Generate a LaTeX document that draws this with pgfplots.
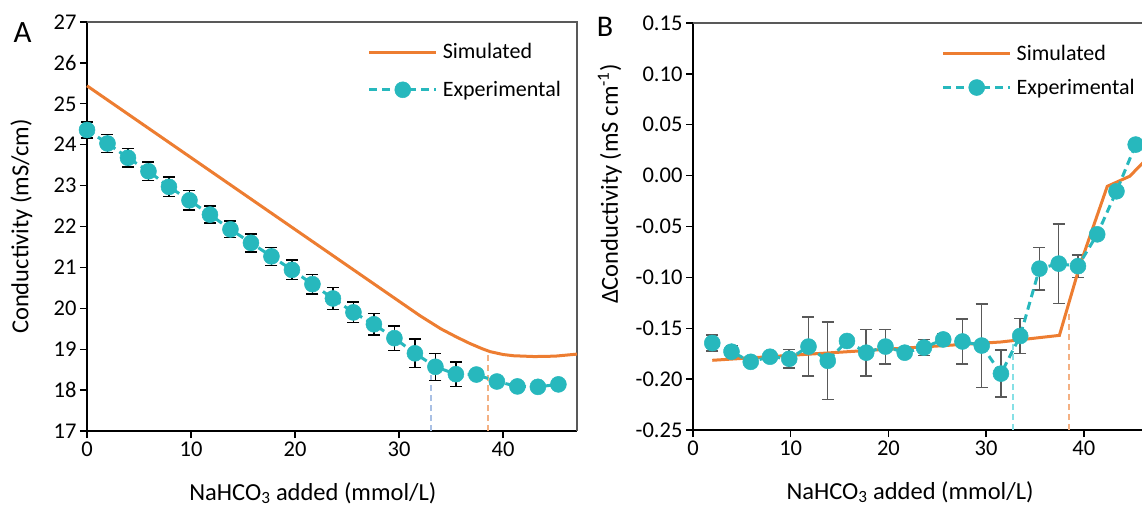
\documentclass[border=0pt]{standalone}
\usepackage{fontspec}
\setmainfont{Carlito}
\usepackage{pgfplots}
\usepackage{pgfplotstable}
\pgfplotsset{compat=1.18}
\definecolor{sim}{HTML}{ED7D31}
\definecolor{expc}{HTML}{27B8BD}
\definecolor{vblue}{HTML}{A9C0E4}
\definecolor{vorange}{HTML}{F4B183}
\definecolor{vcyan}{HTML}{86E0E6}
\definecolor{errg}{HTML}{595959}
\definecolor{framec}{HTML}{595959}

\pgfplotstableread{
x y e
0 24.36 0.20
1.97 24.03 0.22
3.94 23.68 0.23
5.91 23.35 0.23
7.88 22.97 0.24
9.85 22.64 0.24
11.82 22.29 0.21
13.79 21.93 0.20
15.76 21.60 0.22
17.73 21.27 0.22
19.70 20.94 0.24
21.67 20.59 0.24
23.64 20.24 0.27
25.61 19.90 0.25
27.58 19.61 0.26
29.55 19.27 0.30
31.52 18.90 0.35
33.49 18.57 0.33
35.46 18.39 0.30
37.43 18.38 0
39.40 18.21 0
41.37 18.09 0
43.34 18.08 0
45.31 18.14 0
}\expA

\pgfplotstableread{
x y
0 25.44
32 19.82
34 19.50
35.5 19.30
36.8 19.14
38 19.01
38.75 18.94
40 18.87
41 18.84
43 18.82
45 18.83
47.1 18.88
}\simA

\pgfplotstableread{
x y e
1.97 -0.1645 0.008
3.94 -0.173 0.006
5.91 -0.183 0
7.88 -0.178 0
9.85 -0.180 0.009
11.82 -0.168 0.029
13.79 -0.182 0.038
15.76 -0.1625 0
17.73 -0.174 0.023
19.70 -0.168 0.017
21.67 -0.174 0
23.64 -0.169 0.008
25.61 -0.161 0.006
27.58 -0.163 0.022
29.55 -0.167 0.041
31.52 -0.1946 0.023
33.49 -0.1576 0.017
35.46 -0.0914 0.021
37.43 -0.0865 0.039
39.40 -0.089 0.011
41.37 -0.0577 0
43.34 -0.0154 0
45.31 0.0305 0
}\expB

\pgfplotstableread{
x y
1.97 -0.1815
31.5 -0.1635
37.5 -0.157
39.6 -0.088
42.4 -0.0105
44.7 -0.0006
47 0.022
}\simB

\pgfplotsset{
  panel/.style={
    scale only axis,
    axis x line*=bottom, axis y line*=left,
    axis line style={-, line width=1.4pt, black},
    tick align=outside, major tick length=7pt,
    tick style={line width=1.4pt, black},
    ticklabel style={font=\fontsize{22.5}{26}\selectfont},
    label style={font=\fontsize{24.5}{29}\selectfont},
    /pgf/number format/assume math mode=true,
    clip=false,
    xtick={0,10,20,30,40},
    legend cell align=left,
    legend style={draw=none, fill=none, inner sep=0pt, outer sep=0pt,
      font=\fontsize{22}{26}\selectfont, row sep=17pt,
      /tikz/every odd column/.append style={column sep=3pt}},
  },
  simstyle/.style={sim, line width=3pt,
    legend image code/.code={\draw[##1] (0pt,0pt) -- (67pt,0pt);}},
  expstyle/.style={expc, line width=3pt, dash pattern=on 8pt off 5pt,
    mark=*, mark size=8pt, mark options={solid, fill=expc, draw=expc, line width=0.5pt},
    legend image code/.code={\draw[##1,mark repeat=2,mark phase=2] plot coordinates {(0pt,0pt) (33.5pt,0pt) (67pt,0pt)};}},
}

\begin{document}
\begin{tikzpicture}
% ---------------- Panel A ----------------
\begin{axis}[panel, at={(87pt,78pt)}, anchor=south west,
  width=490pt, height=409pt,
  xmin=0, xmax=47.1, ymin=17, ymax=27,
  ytick={17,18,...,27},
  xlabel={NaHCO\textsubscript{3} added (mmol/L)},
  ylabel={Conductivity (mS/cm)},
  xlabel style={at={(axis description cs:0.461,0)}, anchor=center, yshift=-62pt},
  ylabel style={at={(axis description cs:-0.134,0.5)}, anchor=center},
  legend style={at={(axis description cs:0.573,0.952)}, anchor=north west},
]
\draw[framec, line width=1.3pt] (rel axis cs:0,1) -- (rel axis cs:1,1) -- (rel axis cs:1,0);
\addplot[vblue, line width=2pt, dash pattern=on 6pt off 4pt, forget plot] coordinates {(33.05,17) (33.05,18.45)};
\addplot[vorange, line width=2pt, dash pattern=on 6pt off 4pt, forget plot] coordinates {(38.5,17) (38.5,18.95)};
\addplot[draw=none, mark=none, forget plot,
  error bars/.cd, y dir=both, y explicit,
  error bar style={draw=black, solid, line width=1.5pt},
  error mark options={rotate=90, draw=black, solid, mark size=6pt, line width=1.5pt}]
  table[x=x, y=y, y error=e] {\expA};
\addplot[simstyle] table[x=x, y=y] {\simA};
\addlegendentry{Simulated}
\addplot[expstyle] table[x=x, y=y] {\expA};
\addlegendentry{Experimental}
\end{axis}
% ---------------- Panel B ----------------
\begin{axis}[panel, at={(693pt,79pt)}, anchor=south west,
  width=459.2pt, height=407pt,
  xmin=0, xmax=47, ymin=-0.25, ymax=0.15,
  ytick={-0.25,-0.2,...,0.15},
  yticklabel style={/pgf/number format/.cd, fixed, fixed zerofill, precision=2},
  xlabel={NaHCO\textsubscript{3} added (mmol/L)},
  ylabel={ΔConductivity (mS cm\textsuperscript{-1})},
  xlabel style={at={(axis description cs:0.4726,0)}, anchor=center, yshift=-62pt},
  ylabel style={at={(axis description cs:-0.181,0.604)}, anchor=center},
  legend style={at={(axis description cs:0.5416,0.950)}, anchor=north west, row sep=13pt},
]
\draw[framec, line width=1.3pt] (rel axis cs:0,1) -- (rel axis cs:1,1) -- (rel axis cs:1,0);
\addplot[vcyan, line width=2pt, dash pattern=on 6pt off 4pt, forget plot] coordinates {(32.8,-0.25) (32.8,-0.162)};
\addplot[vorange, line width=2pt, dash pattern=on 6pt off 4pt, forget plot] coordinates {(38.5,-0.25) (38.5,-0.134)};
\addplot[draw=none, mark=none, forget plot,
  error bars/.cd, y dir=both, y explicit,
  error bar style={draw=errg, solid, line width=1.5pt},
  error mark options={rotate=90, draw=errg, solid, mark size=6pt, line width=1.5pt}]
  table[x=x, y=y, y error=e] {\expB};
\addplot[simstyle] table[x=x, y=y] {\simB};
\addlegendentry{Simulated}
\addplot[expstyle] table[x=x, y=y] {\expB};
\addlegendentry{Experimental}
\end{axis}
\node[font=\fontsize{31}{35}\selectfont, anchor=center] at (22.5pt,476pt) {A};
\node[font=\fontsize{30}{35}\selectfont, anchor=center] at (605pt,482pt) {B};
\pgfresetboundingbox
\path[use as bounding box] (0pt,0pt) rectangle (1142pt,509pt);
\end{tikzpicture}
\end{document}
